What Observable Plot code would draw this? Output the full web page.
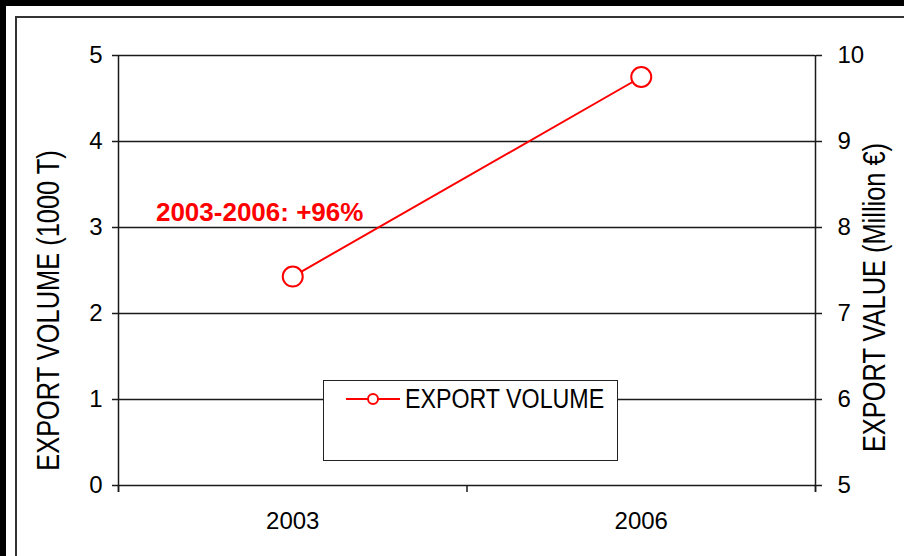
<!DOCTYPE html>
<html><head><meta charset="utf-8">
<script src="https://cdn.jsdelivr.net/npm/d3@7"></script>
<script src="https://cdn.jsdelivr.net/npm/@observablehq/plot@0.6"></script>
<style>
html,body{margin:0;padding:0;background:#000;}
#page{position:relative;width:904px;height:556px;overflow:hidden;background:#000;}
#white{position:absolute;left:6px;top:6px;right:0;bottom:0;background:#fff;}
#frame{position:absolute;left:15px;top:16px;right:-10px;bottom:-10px;border-left:2px solid #333;border-top:2px solid #333;}
#chart{position:absolute;left:0;top:0;}
#legend{position:absolute;left:323px;top:380px;width:295px;height:81px;box-sizing:border-box;border:1.5px solid #222;background:#fff;}
#legend svg{position:absolute;left:22px;top:8px;}
#legend span{position:absolute;left:81px;top:2px;font-family:'Liberation Sans',Arial,sans-serif;font-size:27px;color:#000;line-height:32px;white-space:nowrap;transform:scaleX(0.86);transform-origin:left center;}
</style></head>
<body>
<div id="page">
  <div id="white"></div>
  <div id="frame"></div>
  <div id="chart"></div>
  <div id="legend"></div>
</div>
<script>
const years = ["2003", "2006"];
const exportVolume = [2.43, 4.75];
const volumeTicks = [0, 1, 2, 3, 4, 5];
const valueTicks = [5, 6, 7, 8, 9, 10];
const seriesName = "EXPORT VOLUME";
const leftTitle = "EXPORT VOLUME (1000 T)";
const rightTitle = "EXPORT VALUE (Million €)";
const annotationText = "2003-2006: +96%";

const FONT = "'Liberation Sans',Arial,sans-serif";
const data = years.map((y, i) => ({pos: i + 0.5, year: y, volume: exportVolume[i]}));
const v0 = valueTicks[0];
const k = (volumeTicks[volumeTicks.length - 1] - volumeTicks[0]) / (valueTicks[valueTicks.length - 1] - v0);
const INK = "#1a1a1a";

const chart = Plot.plot({
  width: 904,
  height: 556,
  marginLeft: 118,
  marginRight: 89,
  marginTop: 55,
  marginBottom: 71,
  style: {background: "transparent", fontFamily: FONT, fontSize: "24px", color: "#000", overflow: "visible"},
  x: {domain: [0, years.length], axis: null},
  y: {domain: [volumeTicks[0], volumeTicks[volumeTicks.length - 1]], axis: null},
  marks: [
    Plot.ruleY(volumeTicks, {stroke: INK, strokeWidth: 1.5}),
    Plot.ruleX([0, years.length], {y1: volumeTicks[volumeTicks.length - 1], y2: volumeTicks[0], stroke: INK, strokeWidth: 1.5, insetBottom: -7}),
    Plot.axisX(d3.range(years.length + 1), {tickSize: 7, tickFormat: () => "", stroke: INK, strokeWidth: 1.5, label: null}),
    Plot.axisX(data.map(d => d.pos), {tickSize: 0, tickPadding: 26, tickFormat: d => years[Math.round(d - 0.5)], fill: "#000", label: null}),
    Plot.axisY(volumeTicks, {anchor: "left", tickSize: 6, tickPadding: 10, tickFormat: d => String(d), stroke: INK, strokeWidth: 1.5, fill: "#000", label: null}),
    Plot.axisY(valueTicks.map(v => (v - v0) * k), {anchor: "right", tickSize: 6, tickPadding: 16, tickFormat: d => String(Math.round(d / k + v0)), stroke: INK, strokeWidth: 1.5, fill: "#000", label: null}),
    Plot.text([leftTitle], {x: -0.198, y: 2.035, rotate: -90, textAnchor: "middle", lineAnchor: "middle", fontSize: 31, fill: "#000"}),
    Plot.text([rightTitle], {x: 2.172, y: 2.186, rotate: -90, textAnchor: "middle", lineAnchor: "middle", fontSize: 31, fill: "#000"}),
    Plot.line(data, {x: "pos", y: "volume", stroke: "#ff0000", strokeWidth: 2}),
    Plot.dot(data, {x: "pos", y: "volume", r: 10, stroke: "#ff0000", strokeWidth: 2, fill: "#fff"}),
    Plot.text([annotationText], {x: 0.405, y: 3.08, lineAnchor: "bottom", textAnchor: "middle", fontSize: 26, fontWeight: "bold", fill: "#ff0000"})
  ]
});
document.getElementById("chart").appendChild(chart);

// condense the axis titles along their reading direction (narrow face look)
chart.querySelectorAll("text").forEach(t => {
  if (t.textContent === leftTitle || t.textContent === rightTitle) {
    const tr = t.getAttribute("transform") || "";
    t.setAttribute("transform", tr + " scale(0.82,1)");
  }
});

const legend = document.getElementById("legend");
legend.innerHTML = `<svg width="56" height="20" viewBox="0 0 56 20"><line x1="0" y1="10" x2="54" y2="10" stroke="#ff0000" stroke-width="2"/><circle cx="27" cy="10" r="5" fill="#fff" stroke="#ff0000" stroke-width="2"/></svg><span></span>`;
legend.querySelector("span").textContent = seriesName;
</script>
</body></html>
